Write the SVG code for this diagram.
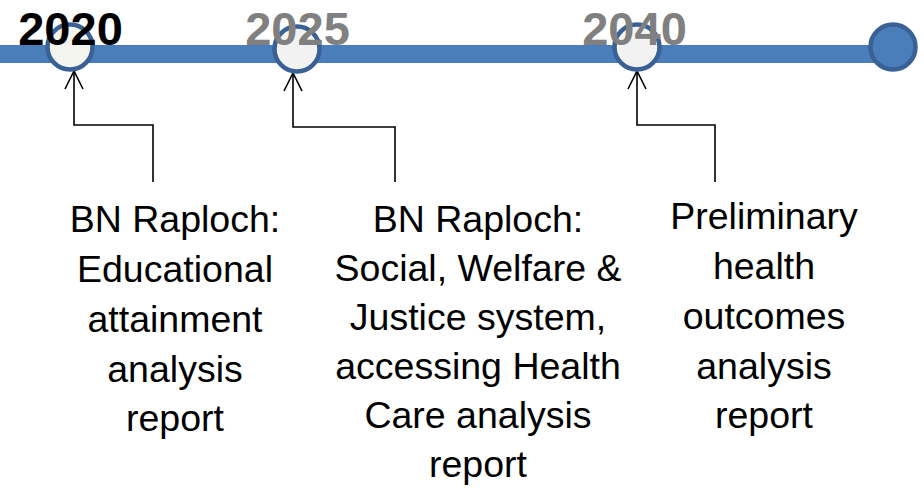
<svg xmlns="http://www.w3.org/2000/svg" width="924" height="488" viewBox="0 0 924 488">
<style>
.bar{fill:#4a7ebb}
.node{stroke:#3a6195;stroke-width:4.5}
.year{font-family:"Liberation Sans",Arial,sans-serif;font-weight:bold;font-size:47px;text-anchor:middle}
.lbl{font-family:"Liberation Sans",Arial,sans-serif;font-size:37.5px;text-anchor:middle;fill:#000}
.conn{fill:none;stroke:#000;stroke-width:1.6}
</style>
<defs>
<marker id="arr" markerUnits="userSpaceOnUse" markerWidth="24" markerHeight="24" viewBox="-20 -12 24 24" refX="0" refY="0" orient="auto" overflow="visible">
<path d="M-18,-9 L0,0 L-18,9" fill="none" stroke="#000" stroke-width="1.6"/>
</marker>
</defs>
<rect class="bar" x="0" y="45" width="890" height="18"/>
<g id="connectors">
<polyline class="conn" points="153,182 153,125 74,125 74,71" marker-end="url(#arr)"/>
<polyline class="conn" points="395,182 395,127 293,127 293,73" marker-end="url(#arr)"/>
<polyline class="conn" points="715,182 715,125 637,125 637,71" marker-end="url(#arr)"/>
</g>
<g id="node2020">
<circle class="node" cx="70" cy="47" r="22.5" fill="#f4f4ee"/>
<text class="year" x="70.5" y="45" fill="#000">2020</text>
</g>
<g id="node2025">
<circle class="node" cx="297" cy="49" r="22.5" fill="#f2f2f2"/>
<text class="year" x="297.5" y="45" fill="#808080">2025</text>
</g>
<g id="node2040">
<circle class="node" cx="637" cy="47" r="22.5" fill="#f2f2f2"/>
<text class="year" x="634.5" y="45" fill="#808080">2040</text>
</g>
<g id="nodeEnd">
<circle class="node" cx="893" cy="47" r="22.5" fill="#4a7ebb"/>
</g>
<g id="label1">
<text class="lbl" x="175" y="232">BN Raploch:</text>
<text class="lbl" x="175" y="282">Educational</text>
<text class="lbl" x="175" y="332">attainment</text>
<text class="lbl" x="175" y="382">analysis</text>
<text class="lbl" x="175" y="431">report</text>
</g>
<g id="label2">
<text class="lbl" x="478" y="232">BN Raploch:</text>
<text class="lbl" x="478" y="281">Social, Welfare &amp;</text>
<text class="lbl" x="478" y="330">Justice system,</text>
<text class="lbl" x="478" y="379">accessing Health</text>
<text class="lbl" x="478" y="428">Care analysis</text>
<text class="lbl" x="478" y="477">report</text>
</g>
<g id="label3">
<text class="lbl" x="764" y="229">Preliminary</text>
<text class="lbl" x="764" y="279">health</text>
<text class="lbl" x="764" y="329">outcomes</text>
<text class="lbl" x="764" y="379">analysis</text>
<text class="lbl" x="764" y="428">report</text>
</g>
</svg>
